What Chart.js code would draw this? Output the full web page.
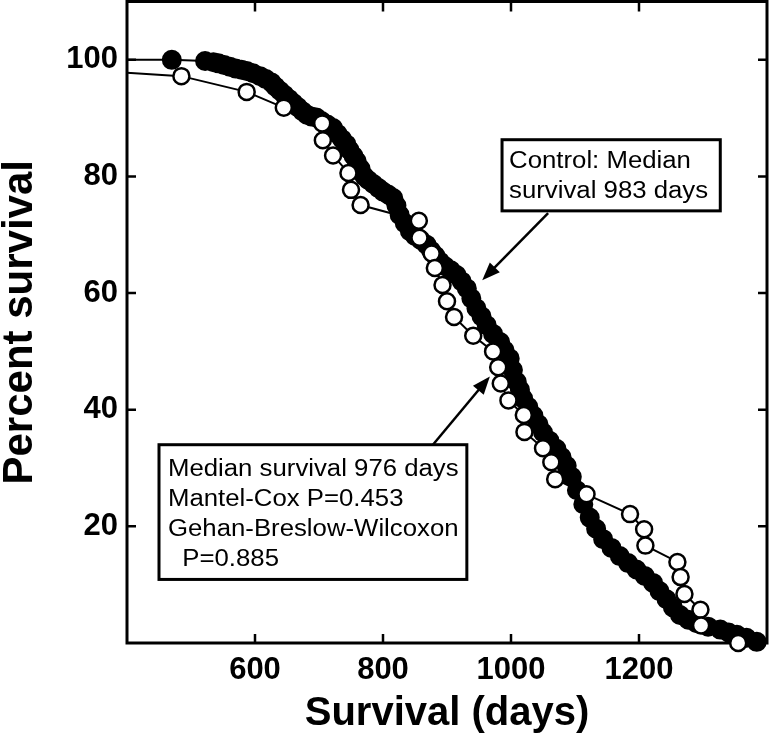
<!DOCTYPE html>
<html>
<head>
<meta charset="utf-8">
<script src="https://cdn.jsdelivr.net/npm/chart.js@4.4.1/dist/chart.umd.min.js"></script>
<style>
  body { margin: 0; background: #fff; }
  canvas { display: block; }
</style>
</head>
<body>
<canvas id="survivalChart" width="769" height="740"></canvas>
<script>
// control group (filled circles)
const controlDays = [400, 470, 522, 535, 543, 552, 561, 570, 579, 587,
  597, 608, 617, 626, 632, 639, 646, 653, 660, 667,
  674, 681, 688, 696, 704, 713, 722, 729, 736, 743,
  748, 754, 759, 765, 771, 777, 785, 793, 800, 808,
  816, 821, 826, 834, 842, 850, 859, 868, 875, 882,
  889, 897, 906, 915, 923, 931, 938, 946, 954, 962,
  972, 983, 990, 998, 1003, 1009, 1014, 1019, 1027, 1035,
  1043, 1050, 1060, 1071, 1079, 1087, 1095, 1103, 1113, 1123,
  1133, 1144, 1157, 1170, 1183, 1196, 1209, 1222, 1232, 1243,
  1253, 1264, 1277, 1290, 1308, 1327, 1340, 1353, 1368, 1384];
const controlSurvival = [100, 100, 99.8, 99.6, 99.4, 99.1, 98.8, 98.5, 98.3, 98.1,
  97.7, 97.2, 96.7, 96.1, 95.4, 94.7, 94.0, 93.3, 92.6, 91.9,
  91.2, 90.6, 90.3, 90.1, 89.5, 88.9, 88.3, 87.3, 86.4, 85.5,
  84.5, 83.5, 82.6, 81.3, 80.0, 79.4, 78.7, 78.0, 77.4, 76.9,
  76.3, 75.0, 73.4, 72.0, 70.6, 69.8, 69.1, 68.3, 67.3, 66.4,
  65.4, 64.6, 63.9, 63.1, 62.0, 60.8, 59.1, 57.4, 56.0, 54.5,
  53.0, 51.6, 50.2, 48.8, 46.8, 44.8, 43.4, 41.9, 40.5, 39.0,
  37.5, 36.1, 34.7, 33.3, 31.9, 30.4, 28.5, 26.2, 23.8, 21.5,
  19.6, 17.8, 16.3, 14.9, 13.7, 12.6, 11.5, 10.3, 8.9, 7.5,
  6.1, 4.8, 4.0, 3.4, 2.8, 2.3, 1.8, 1.4, 0.9, 0.2];

// treated group (open circles)
const treatedDays = [400, 485, 587, 645, 705, 706, 722, 746, 750, 765,
  856, 857, 876, 881, 893, 900, 911, 941, 972, 980,
  984, 996, 1020, 1021, 1050, 1063, 1069, 1118, 1186, 1208,
  1210, 1260, 1265, 1271, 1296, 1297, 1355];
const treatedSurvival = [97.8, 97.2, 94.5, 91.8, 89.1, 86.2, 83.6, 80.6, 77.7, 75.1,
  72.4, 69.5, 66.8, 64.3, 61.4, 58.6, 55.9, 52.7, 50.0, 47.3,
  44.5, 41.6, 39.1, 36.2, 33.4, 31.0, 28.1, 25.5, 22.1, 19.5,
  16.7, 13.9, 11.3, 8.4, 5.7, 3.0, 0];

const xTicks = [600, 800, 1000, 1200];
const yTicks = [20, 40, 60, 80, 100];

const controlNote = ['Control: Median', 'survival 983 days'];
const treatedNote = ['Median survival 976 days', 'Mantel-Cox P=0.453', 'Gehan-Breslow-Wilcoxon', '  P=0.885'];

const FONT = "'Liberation Sans', Arial, Helvetica, sans-serif";

function toPoints(xs, ys) {
  return xs.map((x, i) => ({ x: x, y: ys[i] }));
}

// box frame + inward tick marks on all four sides
const framePlugin = {
  id: 'frame',
  beforeDatasetsDraw(chart) {
    const { ctx, chartArea: a, scales } = chart;
    ctx.save();
    ctx.strokeStyle = '#000';
    ctx.lineWidth = 3;
    ctx.strokeRect(a.left, a.top, a.right - a.left, a.bottom - a.top);
    ctx.lineWidth = 2.5;
    ctx.beginPath();
    xTicks.forEach(v => {
      const px = scales.x.getPixelForValue(v);
      ctx.moveTo(px, a.bottom); ctx.lineTo(px, a.bottom - 9);
      ctx.moveTo(px, a.top); ctx.lineTo(px, a.top + 10);
    });
    yTicks.forEach(v => {
      const py = scales.y.getPixelForValue(v);
      ctx.moveTo(a.left, py); ctx.lineTo(a.left + 9, py);
      ctx.moveTo(a.right, py); ctx.lineTo(a.right - 9, py);
    });
    ctx.stroke();
    ctx.restore();
  }
};

function drawArrow(ctx, x1, y1, x2, y2) {
  const ang = Math.atan2(y2 - y1, x2 - x1);
  const len = 18, half = 7;
  ctx.beginPath();
  ctx.moveTo(x1, y1);
  ctx.lineTo(x2 - Math.cos(ang) * len * 0.8, y2 - Math.sin(ang) * len * 0.8);
  ctx.stroke();
  ctx.beginPath();
  ctx.moveTo(x2, y2);
  ctx.lineTo(x2 - Math.cos(ang) * len + Math.sin(ang) * half, y2 - Math.sin(ang) * len - Math.cos(ang) * half);
  ctx.lineTo(x2 - Math.cos(ang) * len - Math.sin(ang) * half, y2 - Math.sin(ang) * len + Math.cos(ang) * half);
  ctx.closePath();
  ctx.fill();
}

function drawNote(ctx, sx, sy, box, lines, textX, firstY, lineGap) {
  const x1 = sx.getPixelForValue(box[0]), x2 = sx.getPixelForValue(box[1]);
  const y1 = sy.getPixelForValue(box[2]), y2 = sy.getPixelForValue(box[3]);
  ctx.fillStyle = '#fff';
  ctx.fillRect(x1, y1, x2 - x1, y2 - y1);
  ctx.lineWidth = 3;
  ctx.strokeRect(x1, y1, x2 - x1, y2 - y1);
  ctx.fillStyle = '#000';
  ctx.font = '23px ' + FONT;
  ctx.textBaseline = 'alphabetic';
  const tx = sx.getPixelForValue(textX);
  const ty = sy.getPixelForValue(firstY);
  lines.forEach((t, i) => {
    ctx.save();
    ctx.translate(tx, ty + i * lineGap);
    ctx.scale(1.12, 1);
    ctx.fillText(t, 0, 0);
    ctx.restore();
  });
}

const notesPlugin = {
  id: 'notes',
  afterDatasetsDraw(chart) {
    const { ctx, scales } = chart;
    const sx = scales.x, sy = scales.y;
    ctx.save();
    ctx.strokeStyle = '#000';
    ctx.fillStyle = '#000';
    ctx.lineWidth = 2.5;
    drawArrow(ctx, sx.getPixelForValue(1058), sy.getPixelForValue(73.7), sx.getPixelForValue(955), sy.getPixelForValue(62.2));
    drawArrow(ctx, sx.getPixelForValue(878), sy.getPixelForValue(34.0), sx.getPixelForValue(967), sy.getPixelForValue(45.7));
    drawNote(ctx, sx, sy, [986, 1327, 86.3, 74.1], controlNote, 997, 81.4, 30);
    drawNote(ctx, sx, sy, [450, 931, 34.0, 10.9], treatedNote, 464, 28.7, 30);
    ctx.restore();
  }
};

const tickFont = { family: FONT, size: 31, weight: 'bold' };

const ctx = document.getElementById('survivalChart').getContext('2d');
const survivalChart = new Chart(ctx, {
  type: 'scatter',
  data: {
    datasets: [{
      label: 'Treated',
      data: toPoints(treatedDays, treatedSurvival),
      showLine: true,
      borderColor: '#000',
      borderWidth: 2,
      pointBackgroundColor: '#fff',
      pointBorderColor: '#000',
      pointBorderWidth: 2.5,
      pointRadius: c => c.dataIndex === 0 ? 0 : 8,
      clip: false
    }, {
      label: 'Control',
      data: toPoints(controlDays, controlSurvival),
      showLine: true,
      borderColor: '#000',
      borderWidth: 2,
      pointBackgroundColor: '#000',
      pointBorderColor: '#000',
      pointBorderWidth: 2,
      pointRadius: c => c.dataIndex === 0 ? 0 : 9,
      clip: false
    }]
  },
  options: {
    responsive: false,
    animation: false,
    layout: { autoPadding: false, padding: { top: 1.5, right: 2, left: 0, bottom: 0 } },
    plugins: {
      legend: { display: false },
      tooltip: { enabled: false }
    },
    scales: {
      x: {
        type: 'linear',
        min: 400,
        max: 1400,
        afterBuildTicks: s => { s.ticks = xTicks.map(v => ({ value: v })); },
        afterFit: s => { s.height = 97; s.paddingLeft = 0; s.paddingRight = 0; },
        grid: { display: false, drawTicks: false },
        border: { display: false },
        ticks: { font: tickFont, color: '#000', padding: 9, maxRotation: 0, callback: v => String(v) },
        title: { display: true, text: 'Survival (days)', font: { family: FONT, size: 40, weight: 'bold' }, color: '#000', padding: { top: 0, bottom: 2 } }
      },
      y: {
        type: 'linear',
        min: 0,
        max: 110,
        afterBuildTicks: s => { s.ticks = yTicks.map(v => ({ value: v })); },
        afterFit: s => { s.width = 127; s.paddingTop = 0; s.paddingBottom = 0; },
        grid: { display: false, drawTicks: false },
        border: { display: false },
        ticks: { font: tickFont, color: '#000', padding: 9, callback: v => String(v) },
        title: { display: true, text: 'Percent survival', font: { family: FONT, size: 42, weight: 'bold' }, color: '#000', padding: { top: -5, bottom: 0 } }
      }
    }
  },
  plugins: [framePlugin, notesPlugin]
});
</script>
</body>
</html>
